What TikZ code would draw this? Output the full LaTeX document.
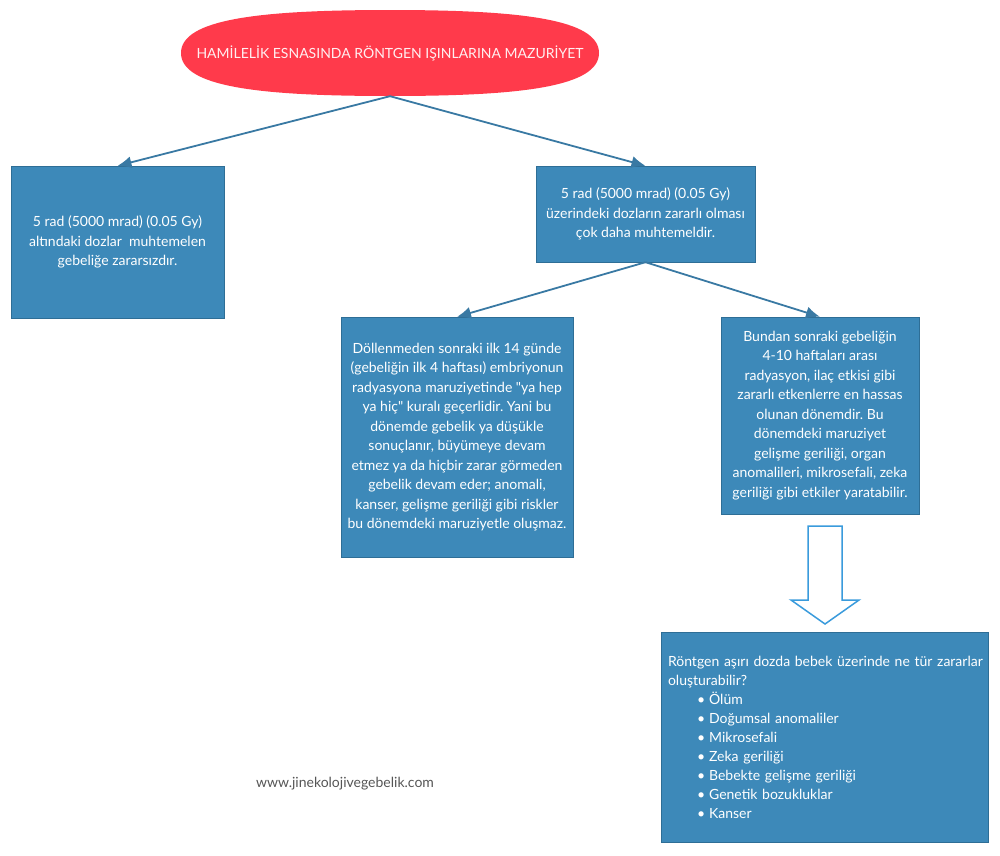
\documentclass[tikz,border=0pt]{standalone}
\usepackage{fontspec}
\setmainfont{Lato}[Ligatures=TeXOff]
\usepackage{tikz}
\usetikzlibrary{arrows.meta}
\definecolor{boxblue}{RGB}{61,137,185}
\definecolor{boxedge}{RGB}{46,110,150}
\definecolor{linkblue}{RGB}{57,121,163}
\definecolor{titlered}{RGB}{255,58,75}
\definecolor{arrowblue}{RGB}{58,155,220}
\definecolor{sitegray}{RGB}{85,85,85}
\frenchspacing

\begin{document}
\begin{tikzpicture}[x=1pt,y=-1pt,
  box/.style={draw=boxedge,fill=boxblue,text=white,inner sep=0pt,align=center,
    font=\fontsize{14}{19.5}\selectfont},
  link/.style={draw=linkblue,line width=1.8pt,-{Latex[length=14pt,width=12pt]}}]
\useasboundingbox (0,0) rectangle (1000,855);
% title
\fill[titlered] (181,53) .. controls (181,19) and (260,10) .. (390,10)
  .. controls (520,10) and (599,19) .. (599,53)
  .. controls (599,87) and (520,96) .. (390,96)
  .. controls (260,96) and (181,87) .. (181,53) -- cycle;
\node[inner sep=0pt,minimum width=418pt,minimum height=86pt,
  text=white!92!titlered,font=\fontsize{14}{16}\selectfont] (title) at (390,53)
  {HAMİLELİK ESNASINDA RÖNTGEN IŞINLARINA MAZURİYET};
% first level
\node[box,minimum width=213pt,minimum height=152pt] (low) at (117.5,242)
  {5 rad (5000 mrad) (0.05 Gy)\\altındaki dozlar\ \ muhtemelen\\gebeliğe zararsızdır.};
\node[box,minimum width=219pt,minimum height=96pt] (high) at (645.5,214)
  {5 rad (5000 mrad) (0.05 Gy)\\üzerindeki dozların zararlı olması\\çok daha muhtemeldir.};
% second level
\node[box,minimum width=232pt,minimum height=240pt] (early) at (457,437)
  {Döllenmeden sonraki ilk 14 günde\\(gebeliğin ilk 4 haftası) embriyonun\\radyasyona maruziyetinde "ya hep\\ya hiç" kuralı geçerlidir. Yani bu\\dönemde gebelik ya düşükle\\sonuçlanır, büyümeye devam\\etmez ya da hiçbir zarar görmeden\\gebelik devam eder; anomali,\\kanser, gelişme geriliği gibi riskler\\bu dönemdeki maruziyetle oluşmaz.};
\node[box,minimum width=198pt,minimum height=197pt] (later) at (820,415.5)
  {Bundan sonraki gebeliğin\\4-10 haftaları arası\\radyasyon, ilaç etkisi gibi\\zararlı etkenlerre en hassas\\olunan dönemdir. Bu\\dönemdeki maruziyet\\gelişme geriliği, organ\\anomalileri, mikrosefali, zeka\\geriliği gibi etkiler yaratabilir.};
% risks
\node[box,minimum width=327pt,minimum height=210pt,text width=313pt,align=left,
  font=\fontsize{14}{19}\selectfont] (risks) at (824.5,737)
  {\mbox{Röntgen aşırı dozda bebek üzerinde ne tür zararlar}\\oluşturabilir?\\
   \hspace*{29pt}•\hspace{4pt}Ölüm\\
   \hspace*{29pt}•\hspace{4pt}Doğumsal anomaliler\\
   \hspace*{29pt}•\hspace{4pt}Mikrosefali\\
   \hspace*{29pt}•\hspace{4pt}Zeka geriliği\\
   \hspace*{29pt}•\hspace{4pt}Bebekte gelişme geriliği\\
   \hspace*{29pt}•\hspace{4pt}Genetik bozukluklar\\
   \hspace*{29pt}•\hspace{4pt}Kanser};
\node[text=sitegray,font=\fontsize{14}{16}\selectfont] (site) at (345,784) {www.jinekolojivegebelik.com};
% connectors
\draw[link] (title.south) -- (low.north);
\draw[link] (title.south) -- (high.north);
\draw[link] (high.south) -- (early.north);
\draw[link] (high.south) -- (later.north);
% block arrow
\draw[arrowblue,line width=1.5pt,fill=white] (808,526) -- (842,526) -- (842,600) -- (859,600)
  -- (825,624) -- (791,600) -- (808,600) -- cycle;
\end{tikzpicture}
\end{document}
